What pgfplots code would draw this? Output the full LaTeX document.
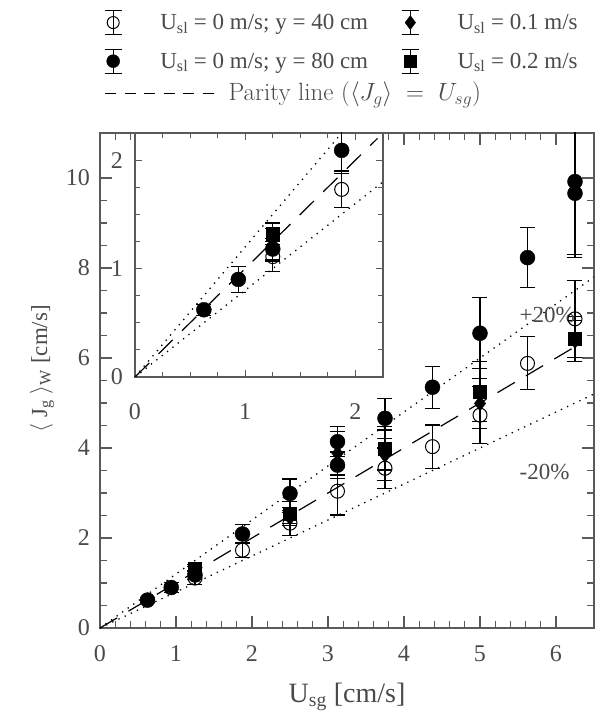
\IfFileExists{fix-cm.sty}{\RequirePackage{fix-cm}}{}
\documentclass[border=0pt]{standalone}
\usepackage{fontspec}
\setmainfont{Liberation Serif}
\usepackage{pgfplots}
\usepackage{pgfplotstable}
\pgfplotsset{compat=1.18}
\definecolor{tg}{HTML}{4A4A4A}
\definecolor{fg}{HTML}{5A5A5A}

\pgfplotstableread{
x y e
1.25 1.11 0.14
1.875 1.73 0.17
2.5 2.33 0.28
3.125 3.04 0.53
3.75 3.55 0.45
4.375 4.03 0.48
5 4.73 0.63
5.625 5.88 0.59
6.25 6.87 0.85
}\dataA
\pgfplotstableread{
x y e
0.625 0.62 0.05
0.9375 0.90 0.12
1.25 1.18 0.10
1.875 2.09 0.21
2.5 2.99 0.32
3.125 4.14 0.33
3.125 3.62 0.29
3.75 4.66 0.44
4.375 5.35 0.47
5 6.55 0.79
5.625 8.23 0.67
6.25 9.92 1.63
6.25 9.66 1.43
}\dataB
\pgfplotstableread{
x y e
1.25 1.22 0.15
2.5 2.45 0.12
3.125 3.88 0.48
3.75 3.84 0.56
5 4.99 0.55
6.25 6.38 0.45
}\dataC
\pgfplotstableread{
x y e
1.25 1.32 0.10
2.5 2.55 0.27
3.75 3.99 0.48
5 5.25 0.67
6.25 6.43 0.50
}\dataD

\pgfplotsset{
  errb/.style={error bars/y dir=both, error bars/y explicit,
    error bars/error bar style={line width=1.1pt, black},
    error bars/error mark options={rotate=90, mark size=7.5pt, line width=1.1pt, black}},
  erimg/.style={legend image code/.code={
      \path[draw=black, line width=1.2pt, solid] (12pt,-5pt) -- (12pt,19pt);
      \path[draw=black, line width=1.2pt, solid] (3.5pt,-5pt) -- (20.5pt,-5pt);
      \path[draw=black, line width=1.2pt, solid] (3.5pt,19pt) -- (20.5pt,19pt);
      \draw[##1] plot coordinates {(12pt,7pt)};
      \path (0pt,0pt) (59pt,0pt);}},
  sA/.style={only marks, black, mark=o, mark size=7pt, mark options={line width=1pt, black}, errb, erimg},
  sB/.style={only marks, black, mark=*, mark size=7.5pt, errb, erimg},
  sC/.style={only marks, black, mark=diamond*, mark size=7.5pt, errb, erimg},
  sD/.style={only marks, black, mark=square*, mark size=6.5pt, errb, erimg},
  dotl/.style={black, line width=1.3pt, dash pattern=on 1.3pt off 5.5pt, forget plot},
  dashl/.style={black, line width=1.2pt, dash pattern=on 20pt off 13pt, forget plot},
}

\begin{document}
\begin{tikzpicture}
\begin{axis}[
  at={(0pt,0pt)}, anchor=south west,
  scale only axis, width=494pt, height=495pt,
  xmin=0, xmax=6.5, ymin=0, ymax=11,
  xtick={0,1,...,6}, ytick={0,2,...,10},
  minor x tick num=4, minor y tick num=3,
  tick align=inside,
  major tick length=12pt, minor tick length=7pt,
  axis line style={draw=fg, line width=1.6pt},
  every tick/.style={fg, line width=1.2pt},
  tick label style={font=\fontsize{24}{28}\selectfont, text=tg},
  /pgf/number format/assume math mode=true,
  xticklabel style={anchor=base, yshift=-33pt},
  yticklabel style={anchor=east, inner sep=0pt, xshift=-10pt},
  xlabel={U\textsubscript{sg} [cm/s]},
  ylabel={$\langle$ J\textsubscript{g} $\rangle$\textsubscript{W} [cm/s]},
  xlabel style={at={(axis description cs:0.5,-0.1495)}, anchor=base, font=\fontsize{28}{32}\selectfont, text=tg},
  ylabel style={at={(axis description cs:-0.107,0.524)}, anchor=base, font=\fontsize{23}{27}\selectfont, text=tg},
  legend columns=2,
  legend style={at={(axis description cs:0.002,1.2485)}, anchor=north west, draw=none, fill=none,
    inner sep=0pt, outer sep=0pt, row sep=12pt, font=\fontsize{23}{27}\selectfont, text=tg,
    /tikz/every even column/.append style={column sep=30pt},
    nodes={inner sep=0pt, text height=17pt, text depth=7pt}, cells={anchor=base west}},
]
\addplot[dotl] coordinates {(0,0) (6.5,7.8)};
\addplot[dotl] coordinates {(0,0) (6.5,5.2)};
\addplot[dashl] coordinates {(0,0) (6.35,6.35)};
\addplot[sA, forget plot] table[x=x, y=y, y error=e] {\dataA};
\addplot[sC, forget plot] table[x=x, y=y, y error=e] {\dataC};
\addplot[sD, forget plot] table[x=x, y=y, y error=e] {\dataD};
\addplot[sB, forget plot] table[x=x, y=y, y error=e] {\dataB};
\addlegendimage{sA, mark size=6pt}\addlegendentry{U\textsubscript{sl} = 0 m/s; y = 40 cm}
\addlegendimage{sC, mark size=7pt}\addlegendentry{U\textsubscript{sl} = 0.1 m/s}
\addlegendimage{sB, mark size=6.5pt}\addlegendentry{U\textsubscript{sl} = 0 m/s; y = 80 cm}
\addlegendimage{sD, mark size=6pt}\addlegendentry{U\textsubscript{sl} = 0.2 m/s}
\node[anchor=base west, font=\fontsize{23}{27}\selectfont, text=tg, inner sep=0pt] at (axis cs:5.52,6.78) {+20\%};
\node[anchor=base west, font=\fontsize{23}{27}\selectfont, text=tg, inner sep=0pt] at (axis cs:5.52,3.29) {-20\%};
\end{axis}

\begin{axis}[
  at={(0pt,0pt)}, anchor=south west,
  scale only axis, width=494pt, height=495pt, hide axis,
  xmin=0, xmax=1, ymin=0, ymax=1,
  legend style={at={(axis description cs:0.0101,1.101)}, anchor=north west, draw=none, fill=none,
    inner sep=0pt, outer sep=0pt, font=\fontencoding{TU}\fontfamily{lmr}\fontsize{25}{30}\selectfont, text=tg,
    nodes={inner sep=0pt, text height=18pt, text depth=7pt}, cells={anchor=base west}},
  legend image code/.code={\draw[black, line width=1pt, dash pattern=on 11pt off 8.5pt] (0pt,7pt) -- (117pt,7pt); \path (0pt,0pt) (123pt,0pt);},
]
\addlegendimage{black}
\addlegendentry{Parity line ($\langle J_g\rangle \;=\; U_{sg}$)}
\end{axis}

\begin{axis}[
  at={(35pt,251pt)}, anchor=south west,
  scale only axis, width=248pt, height=244pt,
  xmin=0, xmax=2.25, ymin=0, ymax=2.25,
  xtick={0,1,2}, ytick={0,1,2},
  minor x tick num=3, minor y tick num=3,
  tick align=inside,
  major tick length=7pt, minor tick length=5pt,
  axis background/.style={fill=white},
  axis line style={draw=fg, line width=1.1pt},
  every tick/.style={fg, line width=1pt},
  tick label style={font=\fontsize{24}{28}\selectfont, text=tg},
  /pgf/number format/assume math mode=true,
  xticklabel style={anchor=base, yshift=-43pt},
  yticklabel style={anchor=east, inner sep=0pt, xshift=-12pt},
]
\addplot[dotl] coordinates {(0,0) (1.875,2.25)};
\addplot[dotl] coordinates {(0,0) (2.25,1.8)};
\addplot[dashl] coordinates {(0,0) (2.2,2.2)};
\addplot[sA] table[x=x, y=y, y error=e] {\dataA};
\addplot[sC] table[x=x, y=y, y error=e] {\dataC};
\addplot[sD] table[x=x, y=y, y error=e] {\dataD};
\addplot[sB] table[x=x, y=y, y error=e] {\dataB};
\end{axis}
\pgfresetboundingbox
\path[use as bounding box] (-100pt,-90pt) rectangle (497pt,628pt);
\end{tikzpicture}
\end{document}
